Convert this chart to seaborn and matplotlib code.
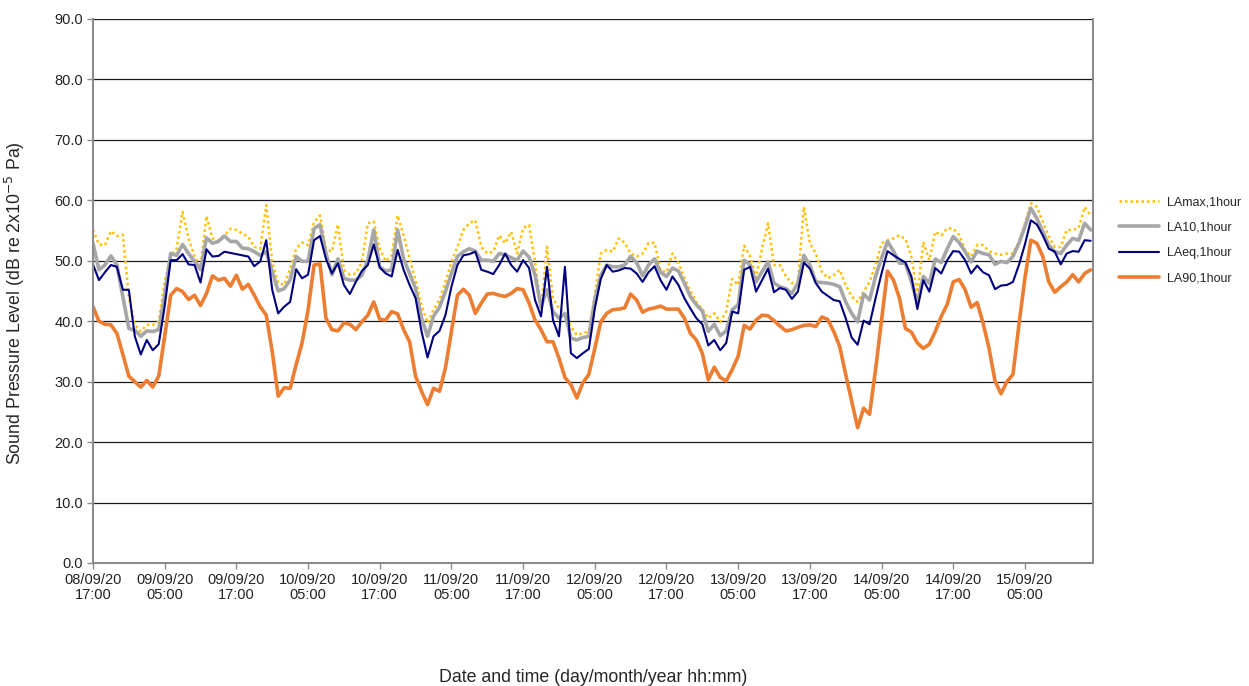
import numpy as np
import pandas as pd
import matplotlib
matplotlib.use("Agg")
import matplotlib.pyplot as plt
import seaborn as sns

# Hourly noise monitoring results, starting 08/09/20 17:00
la_max = [
    55.1, 52.7, 52.6, 54.9, 54.1, 54.3, 44.0, 39.4, 38.3, 39.4, 39.4, 39.9,
    46.5, 50.9, 52.0, 58.1, 53.7, 50.7, 49.0, 57.4, 53.7, 53.4, 54.2, 55.3,
    55.1, 54.5, 54.0, 52.3, 52.0, 59.2, 49.8, 46.3, 46.0, 48.7, 52.0, 53.0,
    52.6, 56.4, 57.5, 52.0, 51.5, 56.0, 48.5, 47.7, 47.9, 49.8, 56.2, 56.5,
    52.0, 49.9, 50.9, 57.5, 54.2, 50.4, 46.8, 42.7, 39.7, 41.9, 43.5, 46.5,
    49.8, 52.3, 55.1, 56.2, 56.7, 52.3, 51.2, 51.5, 54.2, 52.9, 54.8, 51.2,
    55.4, 55.9, 49.8, 41.9, 52.3, 43.8, 42.1, 41.3, 39.1, 37.7, 38.0, 38.3,
    44.3, 51.2, 51.8, 51.5, 53.7, 53.0, 51.2, 50.7, 51.2, 52.9, 53.0, 48.5,
    48.1, 51.2, 49.6, 47.2, 45.0, 43.2, 42.0, 40.5, 41.3, 39.9, 41.6, 47.0,
    46.0, 52.5, 50.7, 47.2, 52.0, 56.2, 49.3, 49.3, 47.4, 46.3, 46.5, 58.9,
    52.9, 51.2, 48.2, 47.1, 47.6, 48.5, 46.0, 44.1, 43.2, 44.9, 46.5, 49.3,
    52.9, 53.4, 53.7, 54.2, 53.6, 50.7, 44.3, 53.1, 50.1, 54.8, 54.2, 55.4,
    55.3, 54.3, 51.8, 50.7, 52.6, 52.6, 51.6, 51.2, 51.0, 51.2, 51.2, 53.1,
    56.2, 59.5, 58.9, 56.4, 54.0, 52.3, 52.3, 55.1, 55.1, 55.4, 58.9, 57.5,
]

la_10 = [
    52.9, 48.5, 49.3, 50.8, 49.3, 44.0, 38.8, 38.5, 37.5, 38.4, 38.3, 38.6,
    44.3, 51.2, 50.9, 52.7, 51.2, 49.9, 48.5, 53.8, 52.9, 53.2, 54.1, 53.2,
    53.2, 52.1, 52.0, 51.5, 50.9, 51.5, 48.2, 45.0, 45.4, 46.8, 50.7, 49.9,
    49.9, 55.3, 56.0, 51.2, 47.7, 50.3, 47.1, 46.8, 46.8, 47.6, 50.1, 55.1,
    49.0, 48.3, 48.5, 55.1, 50.3, 47.9, 45.4, 40.5, 37.5, 40.8, 42.3, 44.9,
    47.9, 50.7, 51.5, 52.0, 51.6, 50.1, 50.1, 49.9, 51.2, 51.0, 50.5, 50.1,
    51.6, 50.6, 47.6, 42.4, 45.2, 41.6, 40.5, 41.3, 37.2, 36.9, 37.3, 37.5,
    43.5, 47.6, 49.3, 49.0, 49.0, 49.3, 50.7, 49.7, 47.5, 49.3, 50.3, 48.1,
    47.4, 48.8, 48.3, 46.3, 44.1, 42.7, 41.7, 38.3, 39.5, 37.6, 38.4, 41.9,
    42.7, 50.1, 49.3, 46.5, 48.2, 49.8, 46.3, 45.7, 45.4, 44.6, 46.3, 50.9,
    49.3, 46.5, 46.4, 46.3, 46.1, 45.7, 43.2, 41.3, 39.9, 44.5, 43.5, 47.4,
    50.4, 53.2, 51.6, 49.6, 49.6, 46.5, 43.0, 47.4, 46.3, 50.3, 49.7, 52.0,
    54.0, 53.0, 51.5, 49.8, 51.6, 51.2, 51.0, 49.4, 49.9, 49.7, 50.7, 52.9,
    55.6, 58.7, 57.0, 54.8, 52.6, 51.5, 51.2, 52.6, 53.7, 53.4, 56.2, 55.1,
]

la_eq = [
    49.4, 46.8, 48.1, 49.3, 49.0, 45.2, 45.2, 37.5, 34.5, 36.9, 35.2, 36.2,
    42.5, 50.1, 50.1, 51.1, 49.4, 49.3, 46.4, 51.9, 50.7, 50.8, 51.5, 51.3,
    51.1, 50.9, 50.7, 49.1, 49.9, 53.4, 45.2, 41.3, 42.4, 43.2, 48.6, 47.1,
    47.7, 53.4, 54.1, 50.3, 47.9, 49.6, 46.0, 44.5, 46.5, 48.3, 49.3, 52.7,
    48.9, 47.9, 47.4, 51.8, 48.5, 46.0, 43.8, 38.3, 34.0, 37.5, 38.4, 41.0,
    45.7, 49.3, 50.9, 51.1, 51.5, 48.5, 48.2, 47.8, 49.3, 51.2, 49.3, 48.2,
    50.1, 48.8, 43.5, 40.8, 49.0, 40.2, 37.5, 49.0, 34.7, 33.9, 34.7, 35.4,
    42.1, 47.0, 49.3, 48.2, 48.4, 48.8, 48.7, 47.9, 46.5, 48.1, 49.1, 46.8,
    45.2, 47.4, 46.0, 43.8, 42.1, 40.5, 39.5, 36.0, 36.9, 35.2, 36.4, 41.6,
    41.3, 48.5, 49.0, 44.9, 46.8, 48.7, 44.8, 45.5, 45.2, 43.7, 44.9, 49.7,
    48.7, 46.3, 44.9, 44.2, 43.5, 43.3, 40.5, 37.3, 36.1, 40.1, 39.5, 43.8,
    47.9, 51.6, 50.9, 50.3, 49.7, 47.4, 42.0, 46.8, 44.9, 48.8, 47.9, 50.1,
    51.6, 51.5, 50.1, 47.9, 49.2, 48.1, 47.6, 45.3, 45.9, 46.0, 46.5, 49.3,
    52.7, 56.7, 56.0, 54.2, 52.0, 51.5, 49.4, 51.2, 51.6, 51.5, 53.4, 53.3,
]

la_90 = [
    42.4, 40.0, 39.5, 39.4, 38.0, 34.5, 30.9, 30.0, 29.1, 30.2, 29.1, 30.9,
    37.5, 44.3, 45.4, 44.9, 43.6, 44.3, 42.6, 44.6, 47.5, 46.8, 47.1, 45.8,
    47.6, 45.3, 46.1, 44.3, 42.4, 41.0, 35.0, 27.6, 29.0, 28.9, 32.8, 36.4,
    41.8, 49.3, 49.5, 40.5, 38.6, 38.4, 39.7, 39.5, 38.6, 39.9, 41.0, 43.2,
    40.3, 40.2, 41.6, 41.2, 38.6, 36.6, 30.9, 28.4, 26.2, 28.9, 28.4, 32.3,
    38.3, 44.3, 45.3, 44.3, 41.3, 43.0, 44.5, 44.6, 44.3, 44.1, 44.6, 45.4,
    45.2, 43.0, 40.2, 38.6, 36.6, 36.6, 33.9, 30.7, 29.5, 27.3, 29.8, 31.2,
    35.5, 39.9, 41.3, 41.9, 42.0, 42.2, 44.5, 43.5, 41.5, 42.0, 42.2, 42.5,
    42.0, 42.0, 42.0, 40.5, 38.0, 36.9, 34.7, 30.3, 32.4, 30.7, 30.1, 32.0,
    34.2, 39.3, 38.7, 40.2, 41.0, 40.9, 40.1, 39.2, 38.4, 38.6, 39.0, 39.3,
    39.4, 39.1, 40.7, 40.3, 38.3, 35.8, 31.2, 26.8, 22.4, 25.6, 24.6, 32.0,
    40.2, 48.3, 46.8, 43.8, 38.8, 38.2, 36.4, 35.5, 36.2, 38.3, 40.8, 42.8,
    46.5, 46.9, 45.2, 42.3, 43.1, 39.7, 35.5, 30.1, 28.0, 30.0, 31.2, 39.4,
    47.1, 53.4, 52.9, 50.7, 46.5, 44.8, 45.7, 46.5, 47.7, 46.5, 47.9, 48.5,
]

series_names = ["LAmax,1hour", "LA10,1hour", "LAeq,1hour", "LA90,1hour"]
series_values = [la_max, la_10, la_eq, la_90]
series_colors = ["#FFC000", "#A6A6A6", "#000080", "#ED7D31"]
series_widths = [1.8, 2.6, 1.5, 2.6]
series_dashes = [(1, 1.2), "", "", ""]

tick_labels = [
    "08/09/20\n17:00", "09/09/20\n05:00", "09/09/20\n17:00", "10/09/20\n05:00",
    "10/09/20\n17:00", "11/09/20\n05:00", "11/09/20\n17:00", "12/09/20\n05:00",
    "12/09/20\n17:00", "13/09/20\n05:00", "13/09/20\n17:00", "14/09/20\n05:00",
    "14/09/20\n17:00", "15/09/20\n05:00",
]
y_ticks = [0, 10, 20, 30, 40, 50, 60, 70, 80, 90]

hours = np.arange(len(la_max))
frames = []
for name, vals in zip(series_names, series_values):
    frames.append(pd.DataFrame({"hour": hours, "level": vals, "series": name}))
df = pd.concat(frames, ignore_index=True)

sns.set_style("white")
plt.rcParams["font.family"] = ["Liberation Sans", "DejaVu Sans"]

fig = plt.figure(figsize=(12.49, 6.86), dpi=100)
ax = fig.add_axes([93 / 1249, 1 - 563 / 686, 1000 / 1249, 544 / 686])

handles = []
for name, color, lw, dash in zip(series_names, series_colors, series_widths, series_dashes):
    sub = df[df["series"] == name]
    sns.lineplot(data=sub, x="hour", y="level", color=color, linewidth=lw,
                 legend=False, ax=ax)
    line = ax.lines[-1]
    line.set_label(name)
    if dash:
        line.set_dashes(dash)
    handles.append(line)

ax.set_xlim(0, 167.4)
ax.set_ylim(0, 90)
ax.set_yticks(y_ticks)
ax.set_yticklabels([f"{v:.1f}" for v in y_ticks], fontsize=10.5, color="#222222")
ax.set_xticks(np.arange(0, 12 * len(tick_labels), 12))
ax.set_xticklabels(tick_labels, fontsize=10.5, color="#222222", linespacing=1.15)

ax.grid(axis="y", color="#1a1a1a", linewidth=0.9)
ax.grid(axis="x", visible=False)
ax.set_axisbelow(True)
for side in ["left", "bottom", "right"]:
    ax.spines[side].set_visible(True)
    ax.spines[side].set_color("#8c8c8c")
    ax.spines[side].set_linewidth(1.5)
ax.spines["top"].set_visible(False)
ax.tick_params(axis="both", which="major", direction="out", length=4,
               width=1.0, color="#8c8c8c", bottom=True, left=True, pad=3)

ax.set_ylabel("Sound Pressure Level (dB re 2x10$^{-5}$ Pa)", fontsize=12.8)
ax.yaxis.set_label_coords(-0.066, 0.478)
ax.set_xlabel("Date and time (day/month/year hh:mm)", fontsize=12.8, labelpad=48)

fig.legend(handles, series_names, loc="upper left", bbox_to_anchor=(1108 / 1249, 1 - 185 / 686),
           frameon=False, fontsize=9, handlelength=3.2, labelspacing=1.08,
           handletextpad=0.6)

fig.savefig("out.png", dpi=100)
